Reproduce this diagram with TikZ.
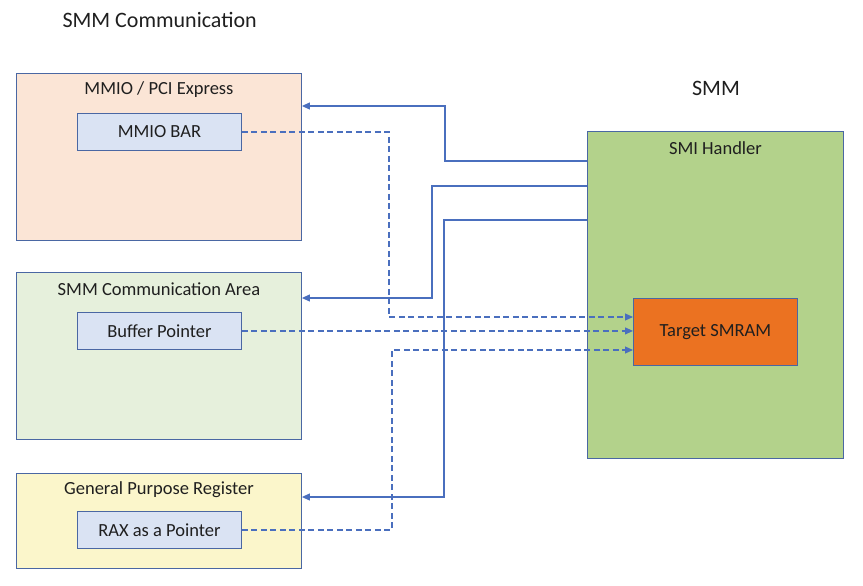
\documentclass[tikz,border=0pt]{standalone}
\usepackage{fontspec}
\setmainfont{Carlito}
\usetikzlibrary{arrows.meta,calc}
\definecolor{peach}{HTML}{FBE5D6}
\definecolor{palegreen}{HTML}{E6F0DC}
\definecolor{paleyellow}{HTML}{FBF6CB}
\definecolor{paleblue}{HTML}{DAE3F3}
\definecolor{smigreen}{HTML}{B3D28B}
\definecolor{smramorange}{HTML}{EB7221}
\definecolor{edgeblue}{HTML}{4A67A3}
\definecolor{linkblue}{HTML}{4A6FBE}
\definecolor{ink}{HTML}{1F1F1F}
\tikzset{
  region/.style={draw=edgeblue,line width=0.9pt,anchor=north west,inner sep=0pt},
  field/.style={draw=edgeblue,line width=0.9pt,fill=paleblue,anchor=north west,inner sep=0pt,
    minimum width=164pt,minimum height=37pt,text=ink,font=\fontsize{18.5}{22}\selectfont},
  lbl/.style={text=ink,font=\fontsize{18.5}{22}\selectfont},
  ctrl/.style={linkblue,line width=1.1pt,-{Triangle[length=8pt,width=7pt]}},
  ptr/.style={linkblue,line width=1.1pt,dash pattern=on 6pt off 3.5pt,-{Triangle[length=8pt,width=7pt]}}
}
\begin{document}
\begin{tikzpicture}[x=1pt,y=-1pt]
    \useasboundingbox (0,0) rectangle (863,586);
    % left side
    \node[region,fill=peach,minimum width=285pt,minimum height=167pt] (mmio) at (16,73) {};
    \node[region,fill=palegreen,minimum width=285pt,minimum height=167pt] (comm) at (16,272) {};
    \node[region,fill=paleyellow,minimum width=285pt,minimum height=95pt] (gpr) at (16,473) {};
    \node[lbl] (mmiotxt) at ($(mmio.north)+(0,17)$) {MMIO / PCI Express};
    \node[lbl] (commtxt) at ($(comm.north)+(0,17)$) {SMM Communication Area};
    \node[lbl] (gprtxt) at ($(gpr.north)+(0,17)$) {General Purpose Register};
    \node[field] (bar) at (77,113) {MMIO BAR};
    \node[field] (buf) at (77,312) {Buffer Pointer};
    \node[field] (rax) at (77,511) {RAX as a Pointer};
    % right side
    \node[region,fill=smigreen,minimum width=256pt,minimum height=327pt] (smi) at (587,131) {};
    \node[lbl] (smitxt) at ($(smi.north)+(0,17)$) {SMI Handler};
    \node[region,fill=smramorange,minimum width=164pt,minimum height=67pt] (smram) at (633,298) {};
    \node[lbl] (smramtxt) at (smram.center) {Target SMRAM};
    \node[text=ink,font=\fontsize{22}{26}\selectfont,anchor=west] (title) at (59,20) {SMM Communication};
    \node[text=ink,font=\fontsize{22}{26}\selectfont] (smmtxt) at (716,88) {SMM};
    % handler writes back
    \coordinate (h1) at ($(smi.north west)+(0,30)$);
    \coordinate (h2) at ($(smi.north west)+(0,55)$);
    \coordinate (h3) at ($(smi.north west)+(0,89)$);
    \draw[ctrl] (h1) -| (445,106) -- (mmio.east |- 0,106);
    \draw[ctrl] (h2) -| (432,298) -- (comm.east |- 0,298);
    \draw[ctrl] (h3) -| (444,497) -- (gpr.east |- 0,497);
    % pointers into SMRAM
    \draw[ptr] (bar.east) -| (389,317) -- (smram.west |- 0,317);
    \draw[ptr] (buf.east) -- (smram.west |- buf.east);
    \draw[ptr] (rax.east) -| (392,350) -- (smram.west |- 0,350);
\end{tikzpicture}
\end{document}
